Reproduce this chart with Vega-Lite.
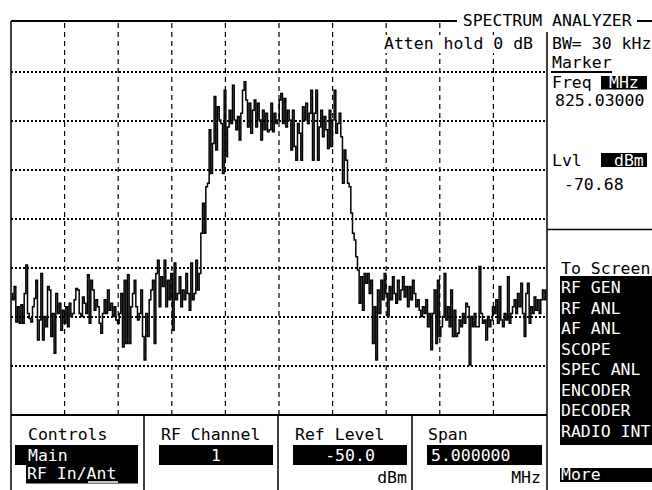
{
"$schema": "https://vega.github.io/schema/vega-lite/v6.json",
"width": 536, "height": 392,
"autosize": {"type": "none"},
"padding": {"left": 11, "top": 23, "right": 105, "bottom": 75},
"background": "white",
"config": {
  "view": {"stroke": null},
  "text": {"font": "DejaVu Sans Mono", "fontSize": 16.5, "align": "left", "baseline": "alphabetic", "color": "black"},
  "rule": {"color": "black", "strokeWidth": 1.5},
  "rect": {"color": "black"}
},
"layer": [
{
  "data": {"values": [{"MHz": 823.03}, {"MHz": 823.53}, {"MHz": 824.03}, {"MHz": 824.53}, {"MHz": 825.03}, {"MHz": 825.53}, {"MHz": 826.03}, {"MHz": 826.53}, {"MHz": 827.03}]},
  "mark": {"type": "rule", "strokeDash": [5, 4], "strokeWidth": 1.2},
  "encoding": {"x": {"field": "MHz", "type": "quantitative", "axis": null}, "y": {"datum": -50, "axis": null}, "y2": {"datum": -130}}
},
{
  "data": {"values": [{"dBm": -60}, {"dBm": -70}, {"dBm": -80}, {"dBm": -90}, {"dBm": -100}, {"dBm": -110}, {"dBm": -120}]},
  "mark": {"type": "rule", "strokeDash": [2, 2], "strokeWidth": 2},
  "encoding": {"y": {"field": "dBm", "type": "quantitative", "axis": null}, "x": {"datum": 822.53, "axis": null}, "x2": {"datum": 827.53}}
},
{
  "data": {"values": [
{"MHz":822.536,"dBm":-105.2},{"MHz":822.552,"dBm":-106.5},{"MHz":822.567,"dBm":-103.8},{"MHz":822.583,"dBm":-111.0},{"MHz":822.598,"dBm":-107.9},{"MHz":822.614,"dBm":-111.3},{"MHz":822.630,"dBm":-107.5},{"MHz":822.645,"dBm":-111.3},{"MHz":822.661,"dBm":-105.2},{"MHz":822.676,"dBm":-99.4},
{"MHz":822.692,"dBm":-109.3},{"MHz":822.707,"dBm":-110.3},{"MHz":822.723,"dBm":-111.0},{"MHz":822.738,"dBm":-107.9},{"MHz":822.754,"dBm":-106.2},{"MHz":822.769,"dBm":-102.5},{"MHz":822.785,"dBm":-114.7},{"MHz":822.801,"dBm":-110.6},{"MHz":822.816,"dBm":-101.1},{"MHz":822.832,"dBm":-114.7},
{"MHz":822.847,"dBm":-109.9},{"MHz":822.863,"dBm":-112.0},{"MHz":822.878,"dBm":-103.8},{"MHz":822.894,"dBm":-104.5},{"MHz":822.909,"dBm":-114.0},{"MHz":822.925,"dBm":-109.3},{"MHz":822.940,"dBm":-117.4},{"MHz":822.956,"dBm":-105.2},{"MHz":822.972,"dBm":-109.3},{"MHz":822.987,"dBm":-107.2},
{"MHz":823.003,"dBm":-112.7},{"MHz":823.018,"dBm":-108.6},{"MHz":823.034,"dBm":-111.3},{"MHz":823.049,"dBm":-107.9},{"MHz":823.065,"dBm":-112.0},{"MHz":823.080,"dBm":-107.2},{"MHz":823.096,"dBm":-109.9},{"MHz":823.111,"dBm":-109.3},{"MHz":823.127,"dBm":-106.5},{"MHz":823.143,"dBm":-104.2},
{"MHz":823.158,"dBm":-104.5},{"MHz":823.174,"dBm":-109.3},{"MHz":823.189,"dBm":-109.9},{"MHz":823.205,"dBm":-105.9},{"MHz":823.220,"dBm":-107.2},{"MHz":823.236,"dBm":-109.3},{"MHz":823.251,"dBm":-101.4},{"MHz":823.267,"dBm":-111.3},{"MHz":823.282,"dBm":-102.5},{"MHz":823.298,"dBm":-104.5},
{"MHz":823.314,"dBm":-108.6},{"MHz":823.329,"dBm":-106.5},{"MHz":823.345,"dBm":-107.9},{"MHz":823.360,"dBm":-111.3},{"MHz":823.376,"dBm":-113.3},{"MHz":823.391,"dBm":-109.3},{"MHz":823.407,"dBm":-106.5},{"MHz":823.422,"dBm":-109.3},{"MHz":823.438,"dBm":-104.5},{"MHz":823.453,"dBm":-108.6},
{"MHz":823.469,"dBm":-107.2},{"MHz":823.485,"dBm":-109.9},{"MHz":823.500,"dBm":-107.9},{"MHz":823.516,"dBm":-110.6},{"MHz":823.531,"dBm":-111.3},{"MHz":823.547,"dBm":-109.3},{"MHz":823.562,"dBm":-105.2},{"MHz":823.578,"dBm":-116.1},{"MHz":823.593,"dBm":-102.5},{"MHz":823.609,"dBm":-115.4},
{"MHz":823.624,"dBm":-101.4},{"MHz":823.640,"dBm":-115.4},{"MHz":823.656,"dBm":-107.9},{"MHz":823.671,"dBm":-105.2},{"MHz":823.687,"dBm":-102.5},{"MHz":823.702,"dBm":-107.9},{"MHz":823.718,"dBm":-110.6},{"MHz":823.733,"dBm":-109.3},{"MHz":823.749,"dBm":-104.5},{"MHz":823.764,"dBm":-114.0},
{"MHz":823.780,"dBm":-118.8},{"MHz":823.795,"dBm":-109.3},{"MHz":823.811,"dBm":-114.0},{"MHz":823.827,"dBm":-106.5},{"MHz":823.842,"dBm":-104.5},{"MHz":823.858,"dBm":-102.5},{"MHz":823.873,"dBm":-115.4},{"MHz":823.889,"dBm":-101.1},{"MHz":823.904,"dBm":-98.4},{"MHz":823.920,"dBm":-107.9},
{"MHz":823.935,"dBm":-101.8},{"MHz":823.951,"dBm":-103.8},{"MHz":823.966,"dBm":-98.4},{"MHz":823.982,"dBm":-107.9},{"MHz":823.998,"dBm":-102.5},{"MHz":824.013,"dBm":-106.5},{"MHz":824.029,"dBm":-101.1},{"MHz":824.044,"dBm":-112.7},{"MHz":824.060,"dBm":-99.0},{"MHz":824.075,"dBm":-106.5},
{"MHz":824.091,"dBm":-105.2},{"MHz":824.106,"dBm":-101.8},{"MHz":824.122,"dBm":-107.9},{"MHz":824.137,"dBm":-104.5},{"MHz":824.153,"dBm":-106.5},{"MHz":824.169,"dBm":-101.1},{"MHz":824.184,"dBm":-105.2},{"MHz":824.200,"dBm":-108.6},{"MHz":824.215,"dBm":-99.0},{"MHz":824.231,"dBm":-106.5},
{"MHz":824.246,"dBm":-105.2},{"MHz":824.262,"dBm":-98.4},{"MHz":824.277,"dBm":-104.5},{"MHz":824.293,"dBm":-101.1},{"MHz":824.309,"dBm":-92.9},{"MHz":824.324,"dBm":-86.8},{"MHz":824.340,"dBm":-92.9},{"MHz":824.355,"dBm":-83.4},{"MHz":824.371,"dBm":-82.7},{"MHz":824.386,"dBm":-71.8},
{"MHz":824.402,"dBm":-80.7},{"MHz":824.417,"dBm":-74.6},{"MHz":824.433,"dBm":-65.0},{"MHz":824.448,"dBm":-75.9},{"MHz":824.464,"dBm":-67.1},{"MHz":824.480,"dBm":-69.8},{"MHz":824.495,"dBm":-70.5},{"MHz":824.511,"dBm":-80.7},{"MHz":824.526,"dBm":-63.7},{"MHz":824.542,"dBm":-77.3},
{"MHz":824.557,"dBm":-71.2},{"MHz":824.573,"dBm":-67.8},{"MHz":824.588,"dBm":-70.5},{"MHz":824.604,"dBm":-62.7},{"MHz":824.620,"dBm":-69.8},{"MHz":824.635,"dBm":-71.8},{"MHz":824.651,"dBm":-69.1},{"MHz":824.666,"dBm":-73.9},{"MHz":824.682,"dBm":-68.4},{"MHz":824.697,"dBm":-63.7},
{"MHz":824.713,"dBm":-62.0},{"MHz":824.728,"dBm":-65.7},{"MHz":824.744,"dBm":-71.2},{"MHz":824.759,"dBm":-66.4},{"MHz":824.775,"dBm":-72.5},{"MHz":824.791,"dBm":-67.8},{"MHz":824.806,"dBm":-65.7},{"MHz":824.822,"dBm":-71.2},{"MHz":824.837,"dBm":-66.4},{"MHz":824.853,"dBm":-69.8},
{"MHz":824.868,"dBm":-73.9},{"MHz":824.884,"dBm":-67.8},{"MHz":824.899,"dBm":-71.8},{"MHz":824.915,"dBm":-68.4},{"MHz":824.931,"dBm":-72.2},{"MHz":824.946,"dBm":-71.8},{"MHz":824.962,"dBm":-66.4},{"MHz":824.977,"dBm":-72.2},{"MHz":824.993,"dBm":-68.4},{"MHz":825.008,"dBm":-70.5},
{"MHz":825.024,"dBm":-69.8},{"MHz":825.039,"dBm":-65.7},{"MHz":825.055,"dBm":-64.4},{"MHz":825.070,"dBm":-70.5},{"MHz":825.086,"dBm":-65.4},{"MHz":825.101,"dBm":-71.2},{"MHz":825.117,"dBm":-67.8},{"MHz":825.133,"dBm":-69.8},{"MHz":825.148,"dBm":-75.9},{"MHz":825.164,"dBm":-67.8},
{"MHz":825.179,"dBm":-75.2},{"MHz":825.195,"dBm":-78.0},{"MHz":825.210,"dBm":-70.5},{"MHz":825.226,"dBm":-72.5},{"MHz":825.241,"dBm":-78.0},{"MHz":825.257,"dBm":-67.1},{"MHz":825.272,"dBm":-69.8},{"MHz":825.288,"dBm":-66.4},{"MHz":825.304,"dBm":-70.5},{"MHz":825.319,"dBm":-68.4},
{"MHz":825.335,"dBm":-63.7},{"MHz":825.350,"dBm":-78.0},{"MHz":825.366,"dBm":-68.4},{"MHz":825.381,"dBm":-63.7},{"MHz":825.397,"dBm":-78.0},{"MHz":825.412,"dBm":-71.2},{"MHz":825.428,"dBm":-67.8},{"MHz":825.443,"dBm":-73.2},{"MHz":825.459,"dBm":-69.1},{"MHz":825.475,"dBm":-71.8},
{"MHz":825.490,"dBm":-75.6},{"MHz":825.506,"dBm":-67.8},{"MHz":825.521,"dBm":-75.2},{"MHz":825.537,"dBm":-69.8},{"MHz":825.552,"dBm":-63.7},{"MHz":825.568,"dBm":-72.5},{"MHz":825.583,"dBm":-70.5},{"MHz":825.599,"dBm":-68.4},{"MHz":825.614,"dBm":-73.2},{"MHz":825.630,"dBm":-82.7},
{"MHz":825.646,"dBm":-75.9},{"MHz":825.661,"dBm":-78.0},{"MHz":825.677,"dBm":-82.7},{"MHz":825.692,"dBm":-83.4},{"MHz":825.708,"dBm":-88.8},{"MHz":825.723,"dBm":-92.9},{"MHz":825.739,"dBm":-94.3},{"MHz":825.754,"dBm":-97.7},{"MHz":825.770,"dBm":-100.4},{"MHz":825.785,"dBm":-107.2},
{"MHz":825.801,"dBm":-101.8},{"MHz":825.817,"dBm":-108.6},{"MHz":825.832,"dBm":-101.1},{"MHz":825.848,"dBm":-103.1},{"MHz":825.863,"dBm":-101.1},{"MHz":825.879,"dBm":-105.2},{"MHz":825.894,"dBm":-102.5},{"MHz":825.910,"dBm":-115.4},{"MHz":825.925,"dBm":-107.9},{"MHz":825.941,"dBm":-118.8},
{"MHz":825.956,"dBm":-104.5},{"MHz":825.972,"dBm":-109.3},{"MHz":825.988,"dBm":-102.5},{"MHz":826.003,"dBm":-106.5},{"MHz":826.019,"dBm":-101.1},{"MHz":826.034,"dBm":-105.2},{"MHz":826.050,"dBm":-109.9},{"MHz":826.065,"dBm":-103.8},{"MHz":826.081,"dBm":-106.5},{"MHz":826.096,"dBm":-101.8},
{"MHz":826.112,"dBm":-105.2},{"MHz":826.127,"dBm":-107.2},{"MHz":826.143,"dBm":-102.5},{"MHz":826.159,"dBm":-106.5},{"MHz":826.174,"dBm":-104.5},{"MHz":826.190,"dBm":-101.8},{"MHz":826.205,"dBm":-105.9},{"MHz":826.221,"dBm":-103.8},{"MHz":826.236,"dBm":-107.9},{"MHz":826.252,"dBm":-103.8},
{"MHz":826.267,"dBm":-106.5},{"MHz":826.283,"dBm":-102.5},{"MHz":826.298,"dBm":-105.2},{"MHz":826.314,"dBm":-107.9},{"MHz":826.330,"dBm":-106.5},{"MHz":826.345,"dBm":-108.6},{"MHz":826.361,"dBm":-109.9},{"MHz":826.376,"dBm":-107.9},{"MHz":826.392,"dBm":-109.3},{"MHz":826.407,"dBm":-106.5},
{"MHz":826.423,"dBm":-112.0},{"MHz":826.438,"dBm":-109.3},{"MHz":826.454,"dBm":-116.7},{"MHz":826.469,"dBm":-109.3},{"MHz":826.485,"dBm":-104.5},{"MHz":826.501,"dBm":-115.4},{"MHz":826.516,"dBm":-102.5},{"MHz":826.532,"dBm":-114.0},{"MHz":826.547,"dBm":-112.0},{"MHz":826.563,"dBm":-109.9},
{"MHz":826.578,"dBm":-101.1},{"MHz":826.594,"dBm":-110.6},{"MHz":826.609,"dBm":-107.9},{"MHz":826.625,"dBm":-112.0},{"MHz":826.640,"dBm":-104.5},{"MHz":826.656,"dBm":-114.0},{"MHz":826.672,"dBm":-108.6},{"MHz":826.687,"dBm":-114.0},{"MHz":826.703,"dBm":-113.3},{"MHz":826.718,"dBm":-110.6},
{"MHz":826.734,"dBm":-112.0},{"MHz":826.749,"dBm":-109.3},{"MHz":826.765,"dBm":-111.3},{"MHz":826.780,"dBm":-107.2},{"MHz":826.796,"dBm":-107.9},{"MHz":826.812,"dBm":-119.8},{"MHz":826.827,"dBm":-109.9},{"MHz":826.843,"dBm":-112.0},{"MHz":826.858,"dBm":-109.3},{"MHz":826.874,"dBm":-112.0},
{"MHz":826.889,"dBm":-112.0},{"MHz":826.905,"dBm":-99.7},{"MHz":826.920,"dBm":-109.3},{"MHz":826.936,"dBm":-111.3},{"MHz":826.951,"dBm":-110.6},{"MHz":826.967,"dBm":-114.7},{"MHz":826.983,"dBm":-109.9},{"MHz":826.998,"dBm":-112.0},{"MHz":827.014,"dBm":-110.6},{"MHz":827.029,"dBm":-107.9},
{"MHz":827.045,"dBm":-109.3},{"MHz":827.060,"dBm":-106.5},{"MHz":827.076,"dBm":-111.3},{"MHz":827.091,"dBm":-103.8},{"MHz":827.107,"dBm":-110.6},{"MHz":827.123,"dBm":-112.0},{"MHz":827.138,"dBm":-109.3},{"MHz":827.154,"dBm":-110.6},{"MHz":827.169,"dBm":-101.8},{"MHz":827.185,"dBm":-111.3},
{"MHz":827.200,"dBm":-109.3},{"MHz":827.216,"dBm":-107.9},{"MHz":827.231,"dBm":-106.5},{"MHz":827.247,"dBm":-109.3},{"MHz":827.262,"dBm":-105.2},{"MHz":827.278,"dBm":-107.9},{"MHz":827.294,"dBm":-103.1},{"MHz":827.309,"dBm":-109.3},{"MHz":827.325,"dBm":-114.0},{"MHz":827.340,"dBm":-105.2},
{"MHz":827.356,"dBm":-103.1},{"MHz":827.371,"dBm":-111.3},{"MHz":827.387,"dBm":-107.9},{"MHz":827.402,"dBm":-109.3},{"MHz":827.418,"dBm":-105.9},{"MHz":827.433,"dBm":-108.6},{"MHz":827.449,"dBm":-106.5},{"MHz":827.464,"dBm":-109.3},{"MHz":827.480,"dBm":-106.5},{"MHz":827.495,"dBm":-104.5},
{"MHz":827.511,"dBm":-106.5},{"MHz":827.526,"dBm":-104.5}
  ]},
  "mark": {"type": "line", "interpolate": "step", "color": "black", "strokeWidth": 1.5},
  "encoding": {
    "x": {"field": "MHz", "type": "quantitative", "scale": {"domain": [822.53, 827.53], "nice": false, "zero": false}, "axis": null},
    "y": {"field": "dBm", "type": "quantitative", "scale": {"domain": [-130, -50], "nice": false, "zero": false}, "axis": null}
  }
},
{
  "data": {"values": [{}]},
  "layer": [
    {"mark": {"type": "rect", "color": "white"}, "encoding": {"x": {"datum": 826.0002, "axis": null}, "x2": {"datum": 827.4181}, "y": {"datum": -52.449, "axis": null}, "y2": {"datum": -56.122}}},
    {"mark": {"type": "rect", "color": "white"}, "encoding": {"x": {"datum": 826.7066, "axis": null}, "x2": {"datum": 828.3602}, "y": {"datum": -48.0, "axis": null}, "y2": {"datum": -51.2}}},
    {"mark": {"type": "rule", "strokeWidth": 2}, "encoding": {"x": {"datum": 822.53, "axis": null}, "x2": {"datum": 826.6905}, "y": {"datum": -49.592, "axis": null}}},
    {"mark": {"type": "rule", "strokeWidth": 2}, "encoding": {"x": {"datum": 828.3696, "axis": null}, "x2": {"datum": 828.5095}, "y": {"datum": -49.592, "axis": null}}},
    {"mark": {"type": "rule"}, "encoding": {"x": {"datum": 822.53, "axis": null}, "y": {"datum": -49.592, "axis": null}, "y2": {"datum": -145.306}}},
    {"mark": {"type": "rule", "strokeWidth": 2}, "encoding": {"x": {"datum": 822.53, "axis": null}, "x2": {"datum": 827.53}, "y": {"datum": -130, "axis": null}}},
    {"mark": {"type": "rule"}, "encoding": {"x": {"datum": 827.53, "axis": null}, "y": {"datum": -51.837, "axis": null}, "y2": {"datum": -145.306}}},
    {"mark": {"type": "rule"}, "encoding": {"x": {"datum": 823.7707, "axis": null}, "y": {"datum": -130, "axis": null}, "y2": {"datum": -145.306}}},
    {"mark": {"type": "rule"}, "encoding": {"x": {"datum": 825.0207, "axis": null}, "y": {"datum": -130, "axis": null}, "y2": {"datum": -145.306}}},
    {"mark": {"type": "rule"}, "encoding": {"x": {"datum": 826.2707, "axis": null}, "y": {"datum": -130, "axis": null}, "y2": {"datum": -145.306}}},
    {"mark": {"type": "rule"}, "encoding": {"x": {"datum": 827.53, "axis": null}, "x2": {"datum": 828.5095}, "y": {"datum": -92.143, "axis": null}}},
    {"mark": {"type": "rule", "strokeWidth": 2}, "encoding": {"x": {"datum": 827.5673, "axis": null}, "x2": {"datum": 828.1363}, "y": {"datum": -60.0, "axis": null}}},

    {"mark": "rect", "encoding": {"x": {"datum": 828.0337, "axis": null}, "x2": {"datum": 828.4628}, "y": {"datum": -60.816, "axis": null}, "y2": {"datum": -63.571}}},
    {"mark": "rect", "encoding": {"x": {"datum": 828.0337, "axis": null}, "x2": {"datum": 828.4628}, "y": {"datum": -76.531, "axis": null}, "y2": {"datum": -79.388}}},
    {"mark": "rect", "encoding": {"x": {"datum": 827.6513, "axis": null}, "x2": {"datum": 828.5095}, "y": {"datum": -101.633, "axis": null}, "y2": {"datum": -136.122}}},
    {"mark": "rect", "encoding": {"x": {"datum": 827.6513, "axis": null}, "x2": {"datum": 828.5095}, "y": {"datum": -140.816, "axis": null}, "y2": {"datum": -143.673}}},
    {"mark": "rect", "encoding": {"x": {"datum": 822.5673, "axis": null}, "x2": {"datum": 823.7147}, "y": {"datum": -136.122, "axis": null}, "y2": {"datum": -140.204}}},
    {"mark": "rect", "encoding": {"x": {"datum": 822.67, "axis": null}, "x2": {"datum": 823.7147}, "y": {"datum": -140.204, "axis": null}, "y2": {"datum": -143.98}}},
    {"mark": "rect", "encoding": {"x": {"datum": 823.9106, "axis": null}, "x2": {"datum": 824.974}, "y": {"datum": -136.122, "axis": null}, "y2": {"datum": -140.204}}},
    {"mark": "rect", "encoding": {"x": {"datum": 825.1606, "axis": null}, "x2": {"datum": 826.224}, "y": {"datum": -136.122, "axis": null}, "y2": {"datum": -140.204}}},
    {"mark": "rect", "encoding": {"x": {"datum": 826.4106, "axis": null}, "x2": {"datum": 827.4834}, "y": {"datum": -136.122, "axis": null}, "y2": {"datum": -140.204}}},
    {"mark": {"type": "rule", "color": "white"}, "encoding": {"x": {"datum": 823.2483, "axis": null}, "x2": {"datum": 823.5281}, "y": {"datum": -143.673, "axis": null}}},

    {"mark": "text", "encoding": {"x": {"datum": 826.7436, "axis": null}, "y": {"datum": -50.612, "axis": null}, "text": {"value": "SPECTRUM ANALYZER"}}},
    {"mark": "text", "encoding": {"x": {"datum": 826.0095, "axis": null}, "y": {"datum": -55.306, "axis": null}, "text": {"value": "Atten hold 0 dB"}}},
    {"mark": "text", "encoding": {"x": {"datum": 827.5766, "axis": null}, "y": {"datum": -55.306, "axis": null}, "text": {"value": "BW= 30 kHz"}}},
    {"mark": "text", "encoding": {"x": {"datum": 827.5766, "axis": null}, "y": {"datum": -59.184, "axis": null}, "text": {"value": "Marker"}}},
    {"mark": "text", "encoding": {"x": {"datum": 827.5766, "axis": null}, "y": {"datum": -63.265, "axis": null}, "text": {"value": "Freq"}}},
    {"mark": "text", "encoding": {"x": {"datum": 827.6046, "axis": null}, "y": {"datum": -66.939, "axis": null}, "text": {"value": "825.03000"}}},
    {"mark": "text", "encoding": {"x": {"datum": 827.5766, "axis": null}, "y": {"datum": -79.184, "axis": null}, "text": {"value": "Lvl"}}},
    {"mark": "text", "encoding": {"x": {"datum": 827.6886, "axis": null}, "y": {"datum": -84.082, "axis": null}, "text": {"value": "-70.68"}}},
    {"mark": "text", "encoding": {"x": {"datum": 827.6606, "axis": null}, "y": {"datum": -101.224, "axis": null}, "text": {"value": "To Screen"}}},
    {"mark": "text", "encoding": {"x": {"datum": 822.6886, "axis": null}, "y": {"datum": -135.102, "axis": null}, "text": {"value": "Controls"}}},
    {"mark": "text", "encoding": {"x": {"datum": 823.9293, "axis": null}, "y": {"datum": -135.102, "axis": null}, "text": {"value": "RF Channel"}}},
    {"mark": "text", "encoding": {"x": {"datum": 825.1793, "axis": null}, "y": {"datum": -135.102, "axis": null}, "text": {"value": "Ref Level"}}},
    {"mark": "text", "encoding": {"x": {"datum": 826.4199, "axis": null}, "y": {"datum": -135.102, "axis": null}, "text": {"value": "Span"}}},
    {"mark": {"type": "text", "align": "right"}, "encoding": {"x": {"datum": 826.224, "axis": null}, "y": {"datum": -143.878, "axis": null}, "text": {"value": "dBm"}}},
    {"mark": {"type": "text", "align": "right"}, "encoding": {"x": {"datum": 827.474, "axis": null}, "y": {"datum": -143.878, "axis": null}, "text": {"value": "MHz"}}},

    {"mark": {"type": "text", "color": "white"}, "encoding": {"x": {"datum": 828.1084, "axis": null}, "y": {"datum": -63.265, "axis": null}, "text": {"value": "MHz"}}},
    {"mark": {"type": "text", "color": "white"}, "encoding": {"x": {"datum": 828.155, "axis": null}, "y": {"datum": -79.184, "axis": null}, "text": {"value": "dBm"}}},
    {"mark": {"type": "text", "color": "white", "lineHeight": 20.5}, "encoding": {"x": {"datum": 827.6606, "axis": null}, "y": {"datum": -105.204, "axis": null}, "text": {"value": ["RF GEN", "RF ANL", "AF ANL", "SCOPE", "SPEC ANL", "ENCODER", "DECODER", "RADIO INT"]}}},
    {"mark": {"type": "text", "color": "white"}, "encoding": {"x": {"datum": 827.6606, "axis": null}, "y": {"datum": -143.367, "axis": null}, "text": {"value": "More"}}},
    {"mark": {"type": "text", "color": "white"}, "encoding": {"x": {"datum": 822.6886, "axis": null}, "y": {"datum": -139.388, "axis": null}, "text": {"value": "Main"}}},
    {"mark": {"type": "text", "color": "white"}, "encoding": {"x": {"datum": 822.6793, "axis": null}, "y": {"datum": -143.163, "axis": null}, "text": {"value": "RF In/Ant"}}},
    {"mark": {"type": "text", "color": "white", "align": "center"}, "encoding": {"x": {"datum": 824.4423, "axis": null}, "y": {"datum": -139.388, "axis": null}, "text": {"value": "1"}}},
    {"mark": {"type": "text", "color": "white", "align": "center"}, "encoding": {"x": {"datum": 825.6923, "axis": null}, "y": {"datum": -139.388, "axis": null}, "text": {"value": "-50.0"}}},
    {"mark": {"type": "text", "color": "white"}, "encoding": {"x": {"datum": 826.4479, "axis": null}, "y": {"datum": -139.388, "axis": null}, "text": {"value": "5.000000"}}}
  ]
}
]
}
